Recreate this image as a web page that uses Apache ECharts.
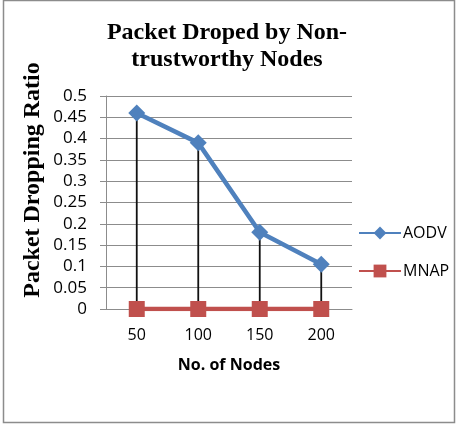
<!DOCTYPE html>
<html>
<head>
<meta charset="utf-8">
<script src="https://cdn.jsdelivr.net/npm/echarts@6/dist/echarts.min.js"></script>
<style>
  html, body { margin: 0; padding: 0; background: #fff; }
  #chart { width: 459px; height: 444px; }
</style>
</head>
<body>
<div id="chart"></div>
<script>
var nodes = ['50', '100', '150', '200'];
var aodv = [0.46, 0.39, 0.18, 0.105];
var mnap = [0, 0, 0, 0];

var chart = echarts.init(document.getElementById('chart'));

var option = {
    animation: false,
    title: {
        text: 'Packet Droped by Non-\ntrustworthy Nodes',
        left: 222,
        top: 14,
        textAlign: 'center',
        textStyle: {
            fontFamily: 'Liberation Serif',
            fontWeight: 'bold',
            fontSize: 24,
            lineHeight: 27,
            color: '#000'
        }
    },
    graphic: [{
        type: 'rect',
        shape: { x: 3.5, y: 0.5, width: 451, height: 422 },
        style: { fill: 'none', stroke: '#8c8c8c', lineWidth: 1.5 },
        silent: true
    }, {
        // y axis title, sits a bit above the grid centre like the original
        type: 'text',
        x: 33,
        y: 180,
        rotation: Math.PI / 2,
        style: {
            text: 'Packet Dropping Ratio',
            fontFamily: 'Liberation Serif',
            fontWeight: 'bold',
            fontSize: 24,
            fill: '#000',
            align: 'center',
            verticalAlign: 'middle'
        },
        silent: true
    }],
    legend: {
        orient: 'vertical',
        left: 353,
        top: 220,
        itemGap: 22,
        itemWidth: 42,
        itemHeight: 16,
        data: ['AODV', 'MNAP'],
        textStyle: { fontFamily: 'Open Sans', fontSize: 16, color: '#000', padding: [0, 0, 0, -3] }
    },
    grid: { left: 106, right: 107, top: 96, bottom: 135 },
    xAxis: {
        type: 'category',
        data: nodes,
        name: 'No. of Nodes',
        nameLocation: 'middle',
        nameGap: 48,
        nameTextStyle: { fontFamily: 'Open Sans', fontWeight: 'bold', fontSize: 16, color: '#000' },
        axisLine: { lineStyle: { color: '#8c8c8c', width: 1 } },
        axisTick: { show: false },
        axisLabel: { fontFamily: 'Open Sans', fontSize: 16, color: '#000', margin: 18 }
    },
    yAxis: {
        type: 'value',
        min: 0,
        max: 0.5,
        interval: 0.05,
        axisLine: { show: true, lineStyle: { color: '#8c8c8c', width: 1 } },
        axisTick: { show: true, length: 6, lineStyle: { color: '#8c8c8c' } },
        splitLine: { lineStyle: { color: '#8c8c8c', width: 1 } },
        axisLabel: {
            fontFamily: 'Open Sans',
            fontSize: 17,
            color: '#000',
            margin: 19,
            formatter: function (v) { return String(Math.round(v * 100) / 100); }
        }
    },
    series: [
        {
            name: 'drop',
            type: 'bar',
            data: aodv,
            barWidth: 1.8,
            itemStyle: { color: '#111' },
            silent: true,
            z: 1
        },
        {
            name: 'MNAP',
            type: 'line',
            data: mnap,
            symbol: 'rect',
            symbolSize: 16,
            lineStyle: { color: '#c0504d', width: 4.5 },
            itemStyle: { color: '#c0504d' },
            z: 3
        },
        {
            name: 'AODV',
            type: 'line',
            data: aodv,
            symbol: 'diamond',
            symbolSize: 17,
            lineStyle: { color: '#4f81bd', width: 4.5 },
            itemStyle: { color: '#4f81bd' },
            z: 4
        }
    ]
};

chart.setOption(option);
</script>
</body>
</html>
